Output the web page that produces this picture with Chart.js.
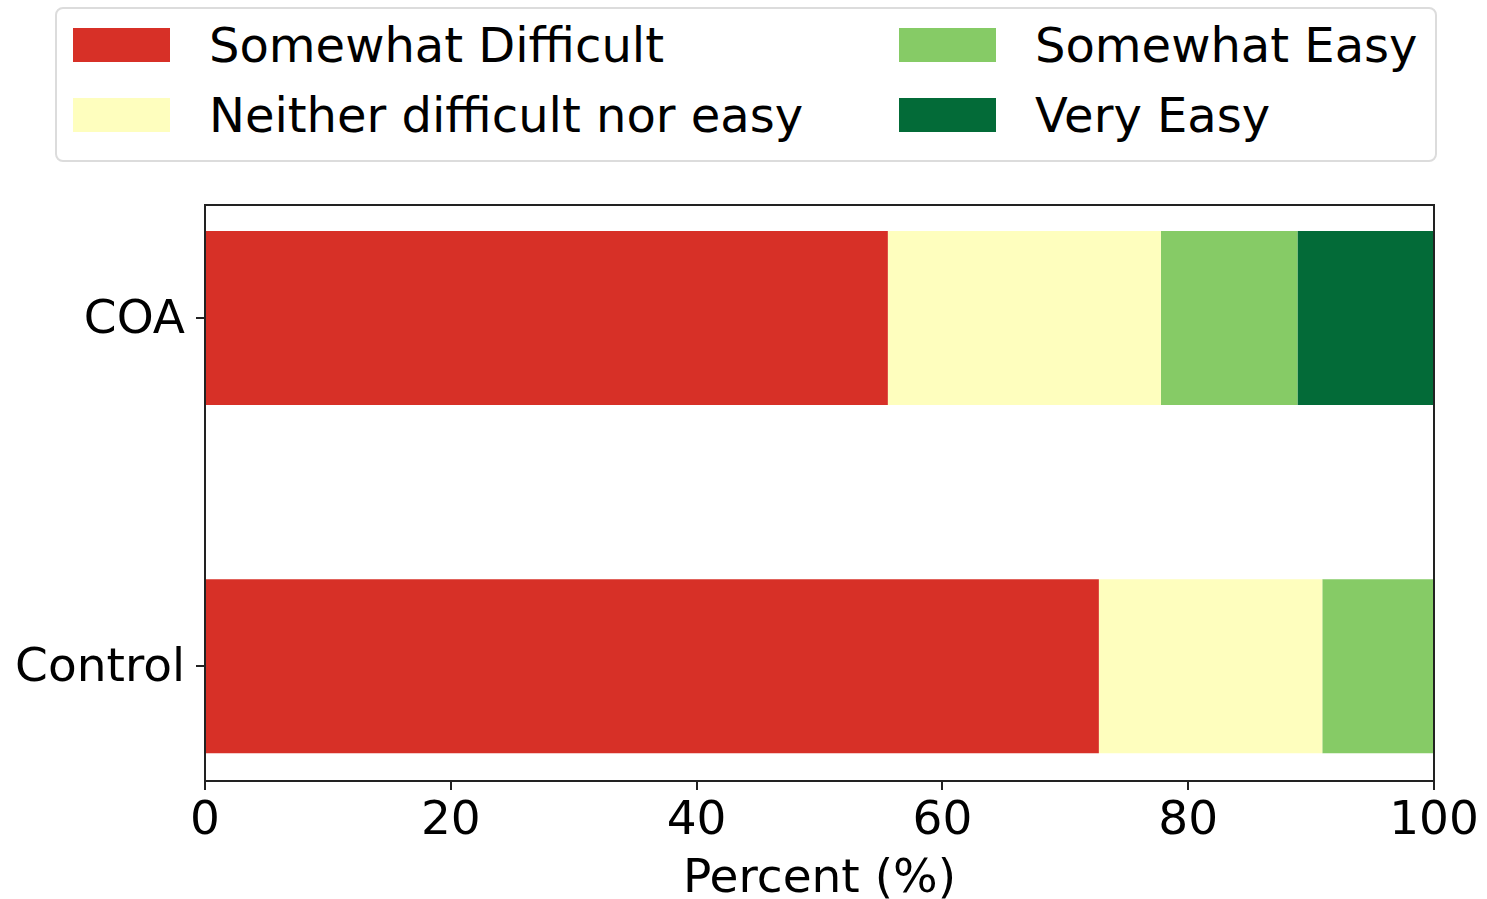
<!DOCTYPE html>
<html>
<head>
<meta charset="utf-8">
<script src="https://cdn.jsdelivr.net/npm/chart.js@4/dist/chart.umd.min.js"></script>
<style>
  html, body { margin: 0; padding: 0; background: #fff; }
  #wrap { position: relative; width: 1487px; height: 899px; }
  #legend {
    position: absolute; left: 55px; top: 7px; width: 1378px; height: 151px;
    border: 2px solid #dcdcdc; border-radius: 8px; background: #fff;
    font-family: 'DejaVu Sans', sans-serif; font-size: 48px; color: #000;
  }
  .item { position: absolute; height: 34px; }
  .sw { position: absolute; left: 0; top: 0; width: 97px; height: 34px; }
  .lbl { position: absolute; left: 136px; top: 0; line-height: 34px; white-space: nowrap; }
</style>
</head>
<body>
<div id="wrap">
  <canvas id="c" width="1487" height="899"></canvas>
  <div id="legend"></div>
</div>
<script>
// ---- data ----
const categories = ['COA', 'Control'];
const seriesNames = ['Somewhat Difficult', 'Neither difficult nor easy', 'Somewhat Easy', 'Very Easy'];
const somewhatDifficult = [55.56, 72.73];
const neitherDifficultNorEasy = [22.22, 18.18];
const somewhatEasy = [11.11, 9.09];
const veryEasy = [11.11, 0];
const xTickValues = [0, 20, 40, 60, 80, 100];
const seriesColors = ['#d73027', '#fefebe', '#86cb66', '#036b38'];

const seriesValues = [somewhatDifficult, neitherDifficultNorEasy, somewhatEasy, veryEasy];

const datasets = seriesNames.map((name, k) => ({
  label: name,
  data: seriesValues[k].map((v, i) => ({ x: v, y: i })),
  backgroundColor: seriesColors[k],
  borderWidth: 0,
  categoryPercentage: 1,
  barPercentage: 0.5
}));

// legend (matplotlib ncol=2, column-major)
const legendEl = document.getElementById('legend');
const colX = [16, 842];
const rowY = [19, 89];
seriesNames.forEach((name, k) => {
  const col = Math.floor(k / 2), row = k % 2;
  const it = document.createElement('div');
  it.className = 'item';
  it.style.left = colX[col] + 'px';
  it.style.top = rowY[row] + 'px';
  it.innerHTML = '<div class="sw" style="background:' + seriesColors[k] + '"></div><div class="lbl"></div>';
  it.querySelector('.lbl').textContent = name;
  legendEl.appendChild(it);
});

const frame = {
  id: 'frame',
  afterDatasetsDraw(chart) {
    const a = chart.chartArea, ctx = chart.ctx;
    ctx.save();
    ctx.strokeStyle = '#222';
    ctx.lineWidth = 2;
    ctx.strokeRect(a.left, a.top, a.right - a.left, a.bottom - a.top);
    ctx.restore();
  }
};

const font = { family: "'DejaVu Sans', sans-serif", size: 47 };

new Chart(document.getElementById('c'), {
  type: 'bar',
  data: { datasets },
  plugins: [frame],
  options: {
    indexAxis: 'y',
    responsive: false,
    animation: false,
    devicePixelRatio: 1,
    layout: { padding: { top: 205, right: 53, bottom: 0, left: 0 } },
    plugins: { legend: { display: false }, tooltip: { enabled: false } },
    scales: {
      x: {
        type: 'linear', stacked: true, min: 0, max: 100,
        afterBuildTicks: s => { s.ticks = xTickValues.map(v => ({ value: v })); },
        afterFit: s => { s.height = 118; },
        ticks: { color: '#000', font, padding: 4, maxRotation: 0 },
        grid: { drawOnChartArea: false, drawTicks: true, tickLength: 9, color: '#222', lineWidth: 2 },
        border: { display: false },
        title: { display: true, text: 'Percent (%)', color: '#000',
                 font: { family: "'DejaVu Sans', sans-serif", size: 47, lineHeight: 1 },
                 padding: { top: 0, bottom: -4 } }
      },
      y: {
        type: 'linear', stacked: true, min: -0.325, max: 1.33, reverse: true,
        offset: false,
        afterBuildTicks: s => { s.ticks = categories.map((c, i) => ({ value: i })); },
        afterFit: s => { s.width = 205; },
        ticks: { color: '#000', font, padding: 11, labelOffset: 3, callback: v => categories[v] },
        grid: { offset: false, drawOnChartArea: false, drawTicks: true, tickLength: 9, color: '#222', lineWidth: 2 },
        border: { display: false }
      }
    }
  }
});
</script>
</body>
</html>
